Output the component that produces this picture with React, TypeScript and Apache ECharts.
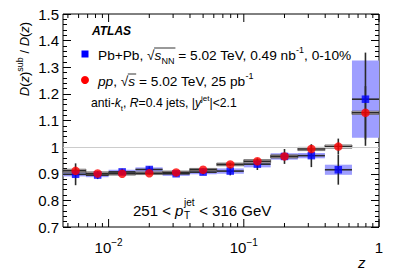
import React, { useEffect, useRef } from 'react';
import * as echarts from 'echarts';

// ---- data ----
const binEdges = [0.0046, 0.0068, 0.01, 0.0158, 0.0251, 0.0398, 0.0631, 0.1, 0.158, 0.251, 0.398, 0.631, 1.0];
const zCenters = [0.0057, 0.0083, 0.0126, 0.02, 0.0316, 0.05, 0.0794, 0.126, 0.2, 0.316, 0.5, 0.794];
const pbpbValues = [0.898, 0.895, 0.907, 0.916, 0.9, 0.906, 0.91, 0.936, 0.965, 0.968, 0.915, 1.18];
const pbpbStat = [0.041, 0.015, 0.012, 0.012, 0.01, 0.01, 0.016, 0.022, 0.028, 0.043, 0.056, 0.175];
const pbpbSyst = [0.008, 0.008, 0.008, 0.008, 0.008, 0.008, 0.01, 0.012, 0.012, 0.01, 0.019, 0.145];
const ppValues = [0.911, 0.901, 0.9, 0.902, 0.905, 0.915, 0.935, 0.947, 0.965, 0.993, 1.002, 1.129];
const ppStat = [0.01, 0.006, 0.005, 0.005, 0.005, 0.005, 0.006, 0.008, 0.01, 0.015, 0.03, 0.1];
const ppSyst = [0.006, 0.006, 0.005, 0.005, 0.005, 0.005, 0.005, 0.006, 0.006, 0.006, 0.006, 0.006];
const xMajorTicks = [0.01, 0.1, 1];
const xMinorTicks = [0.005, 0.006, 0.007, 0.008, 0.009, 0.02, 0.03, 0.04, 0.05, 0.06, 0.07, 0.08, 0.09,
  0.2, 0.3, 0.4, 0.5, 0.6, 0.7, 0.8, 0.9];
const yMin = 0.7;
const yMax = 1.5;
const yStep = 0.1;

const FONT = '"Liberation Sans", Arial, Helvetica, sans-serif';

function measure(text: string, font: string): number {
  const c = document.createElement('canvas').getContext('2d');
  if (!c) return text.length * 7;
  c.font = font;
  return c.measureText(text).width;
}

export default function App() {
  const ref = useRef<HTMLDivElement>(null);
  useEffect(() => {
    if (!ref.current) return;
    const chart = echarts.init(ref.current, null, { renderer: 'svg' });

    const boxData = (vals: number[], syst: number[]) =>
      zCenters.map((_, i) => [binEdges[i], binEdges[i + 1], vals[i], syst[i]]);
    const errData = (vals: number[], stat: number[]) =>
      zCenters.map((z, i) => [z, vals[i], stat[i]]);

    const boxRender = (fill: string, stroke: string | null) => (params: any, api: any) => {
      const cs = params.coordSys;
      const p1 = api.coord([api.value(0), api.value(2) + api.value(3)]);
      const p2 = api.coord([api.value(1), api.value(2) - api.value(3)]);
      const x1 = Math.max(p1[0], cs.x);
      const x2 = Math.min(p2[0], cs.x + cs.width);
      return {
        type: 'rect',
        shape: { x: x1, y: p1[1], width: x2 - x1, height: p2[1] - p1[1] },
        style: { fill, stroke: stroke || 'none', lineWidth: stroke ? 0.8 : 0 },
      };
    };
    const hbarRender = (params: any, api: any) => {
      const cs = params.coordSys;
      const p1 = api.coord([api.value(0), api.value(2)]);
      const p2 = api.coord([api.value(1), api.value(2)]);
      return {
        type: 'line',
        shape: { x1: Math.max(p1[0], cs.x), y1: p1[1], x2: Math.min(p2[0], cs.x + cs.width), y2: p2[1] },
        style: { stroke: '#2a2a2a', lineWidth: 1.6 },
      };
    };
    const vbarRender = (params: any, api: any) => {
      const p1 = api.coord([api.value(0), api.value(1) - api.value(2)]);
      const p2 = api.coord([api.value(0), api.value(1) + api.value(2)]);
      return {
        type: 'line',
        shape: { x1: p1[0], y1: p1[1], x2: p2[0], y2: p2[1] },
        style: { stroke: '#2a2a2a', lineWidth: 1.6 },
      };
    };
    const tickRender = (len: number) => (params: any, api: any) => {
      const cs = params.coordSys;
      const x = api.coord([api.value(0), 1])[0];
      const b = cs.y + cs.height;
      return {
        type: 'group',
        children: [
          { type: 'line', shape: { x1: x, y1: b, x2: x, y2: b - len }, style: { stroke: '#000', lineWidth: 1 } },
          { type: 'line', shape: { x1: x, y1: cs.y, x2: x, y2: cs.y + len }, style: { stroke: '#000', lineWidth: 1 } },
        ],
      };
    };

    // --- texts ---
    const legFont = 13.7;
    const subSize = 9;
    const rich1: any = {
      n: { fontFamily: FONT, fontSize: legFont, lineHeight: 20, color: '#000' },
      i: { fontFamily: FONT, fontSize: legFont, fontStyle: 'italic', lineHeight: 20, color: '#000' },
      sup: { fontFamily: FONT, fontSize: subSize, lineHeight: 10, verticalAlign: 'top', color: '#000' },
      sub: { fontFamily: FONT, fontSize: subSize, lineHeight: 10, verticalAlign: 'bottom', color: '#000' },
    };
    const l3Size = 12.2;
    const rich3: any = {
      n: { fontFamily: FONT, fontSize: l3Size, lineHeight: 18, color: '#000' },
      i: { fontFamily: FONT, fontSize: l3Size, fontStyle: 'italic', lineHeight: 18, color: '#000' },
      sup: { fontFamily: FONT, fontSize: 8, lineHeight: 9, verticalAlign: 'top', color: '#000' },
      sub: { fontFamily: FONT, fontSize: 8, lineHeight: 9, verticalAlign: 'bottom', color: '#000' },
    };
    const nF = `${legFont}px ${FONT}`;
    const iF = `italic ${legFont}px ${FONT}`;
    const sF = `${subSize}px ${FONT}`;
    const l1X = 98;
    const l1Y = 55;
    const l2X = 98;
    const l2Y = 81;
    const ol1x = l1X + measure('Pb+Pb, √', nF);
    const ol1w = measure('s', iF) + measure('NN', sF) + 1;
    const ol2x = l2X + measure('pp', iF) + measure(', √', nF);
    const ol2w = measure('s', iF) + 1;

    // pT line composed with stacked sub/superscripts
    const ptFontSize = 15;
    const ptFont = `${ptFontSize}px ${FONT}`;
    const ptFontI = `italic ${ptFontSize}px ${FONT}`;
    const ptX0 = 133;
    const ptY = 210;
    const w1 = measure('251 < ', ptFont);
    const w2 = measure('p', ptFontI);
    const wSub = measure('T', `10px ${FONT}`);
    const wSup = measure('jet', `10px ${FONT}`);
    const xAfter = ptX0 + w1 + w2 + Math.max(wSub, wSup) + 1;
    const t = (text: string, x: number, y: number, size: number, extra: any = {}) => ({
      type: 'text',
      x,
      y,
      style: { text, fontFamily: FONT, fontSize: size, fill: '#000', verticalAlign: 'middle', align: 'left', ...extra },
      silent: true,
    });
    const oline = (x: number, y: number, w: number) => ({
      type: 'line',
      shape: { x1: x - 0.5, y1: y, x2: x + w, y2: y },
      style: { stroke: '#000', lineWidth: 0.8 },
      silent: true,
    });

    const option: any = {
      animation: false,
      grid: { left: 63, right: 20, top: 14, bottom: 44, show: true, borderColor: '#000', borderWidth: 1, backgroundColor: 'transparent' },
      xAxis: {
        type: 'log',
        min: binEdges[0],
        max: 1,
        logBase: 10,
        axisLine: { show: false },
        axisTick: { show: false },
        splitLine: { show: false },
        minorTick: { show: false },
        axisLabel: {
          margin: 10,
          color: '#000',
          fontFamily: FONT,
          fontSize: 15,
          showMinLabel: true,
          showMaxLabel: true,
          formatter: (v: number) => {
            const l = Math.log10(v);
            if (Math.abs(l) < 1e-6) return '{b|1}';
            if (Math.abs(l - Math.round(l)) < 1e-6) return '{b|10}{e|−' + Math.abs(Math.round(l)) + '}';
            return '';
          },
          rich: {
            b: { fontFamily: FONT, fontSize: 15, lineHeight: 20, color: '#000' },
            e: { fontFamily: FONT, fontSize: 10, lineHeight: 12, verticalAlign: 'top', color: '#000' },
          },
        },
      },
      yAxis: [
        {
          type: 'value',
          min: yMin,
          max: yMax,
          interval: yStep,
          axisLine: { show: false },
          splitLine: { show: false },
          axisTick: { show: true, inside: true, length: 8, lineStyle: { color: '#000', width: 1 } },
          minorTick: { show: true, splitNumber: 5, length: 4, lineStyle: { color: '#000', width: 1 } },
          axisLabel: {
            margin: 4,
            color: '#000',
            fontFamily: FONT,
            fontSize: 15,
            formatter: (v: number) => (Math.abs(v - 1) < 1e-9 ? '1' : v.toFixed(1)),
          },
        },
        {
          type: 'value',
          position: 'right',
          min: yMin,
          max: yMax,
          interval: yStep,
          axisLine: { show: false },
          splitLine: { show: false },
          axisTick: { show: true, inside: true, length: 8, lineStyle: { color: '#000', width: 1 } },
          minorTick: { show: true, splitNumber: 5, length: 4, lineStyle: { color: '#000', width: 1 } },
          axisLabel: { show: false },
        },
      ],
      series: [
        {
          type: 'custom',
          name: 'ticksMajor',
          data: xMajorTicks.map((v) => [v]),
          encode: { x: 0 },
          renderItem: tickRender(8),
          silent: true,
          clip: false,
          z: 1,
        },
        {
          type: 'custom',
          name: 'ticksMinor',
          data: xMinorTicks.map((v) => [v]),
          encode: { x: 0 },
          renderItem: tickRender(4),
          silent: true,
          clip: false,
          z: 1,
        },
        {
          type: 'custom',
          name: 'pbpbSyst',
          data: boxData(pbpbValues, pbpbSyst),
          encode: { x: [0, 1], y: [2] },
          renderItem: boxRender('#9e9eff', null),
          silent: true,
          z: 2,
          markLine: {
            silent: true,
            symbol: 'none',
            label: { show: false },
            lineStyle: { color: '#cccccc', width: 1, type: 'solid' },
            data: [{ yAxis: 1 }],
          },
        },
        {
          type: 'custom',
          name: 'ppSyst',
          data: boxData(ppValues, ppSyst),
          encode: { x: [0, 1], y: [2] },
          renderItem: boxRender('#f6e0e0', '#555555'),
          silent: true,
          z: 3,
        },
        {
          type: 'custom',
          name: 'pbpbX',
          data: boxData(pbpbValues, pbpbSyst),
          encode: { x: [0, 1], y: [2] },
          renderItem: hbarRender,
          silent: true,
          z: 4,
        },
        {
          type: 'custom',
          name: 'ppX',
          data: boxData(ppValues, ppSyst),
          encode: { x: [0, 1], y: [2] },
          renderItem: hbarRender,
          silent: true,
          z: 4,
        },
        {
          type: 'custom',
          name: 'pbpbErr',
          data: errData(pbpbValues, pbpbStat),
          encode: { x: 0, y: 1 },
          renderItem: vbarRender,
          silent: true,
          z: 5,
        },
        {
          type: 'custom',
          name: 'ppErr',
          data: errData(ppValues, ppStat),
          encode: { x: 0, y: 1 },
          renderItem: vbarRender,
          silent: true,
          z: 5,
        },
        {
          type: 'scatter',
          name: 'Pb+Pb',
          data: zCenters.map((z, i) => [z, pbpbValues[i]]),
          symbol: 'rect',
          symbolSize: 7.5,
          itemStyle: { color: '#0000ff' },
          silent: true,
          z: 6,
        },
        {
          type: 'scatter',
          name: 'pp',
          data: zCenters.map((z, i) => [z, ppValues[i]]),
          symbol: 'circle',
          symbolSize: 8.5,
          itemStyle: { color: '#ff0000' },
          silent: true,
          z: 7,
        },
      ],
      graphic: [
        t('ATLAS', 92, 31, 12, { fontWeight: 'bold', fontStyle: 'italic' }),
        { type: 'rect', shape: { x: 81.5, y: 50.5, width: 7, height: 7 }, style: { fill: '#0000ff' }, silent: true },
        {
          type: 'text',
          x: l1X,
          y: l1Y,
          silent: true,
          style: {
            text: '{n|Pb+Pb, √}{i|s}{sub|NN}{n| = 5.02 TeV, 0.49 nb}{sup|-1}{n|, 0-10%}',
            rich: rich1,
            verticalAlign: 'middle',
            align: 'left',
          },
        },
        oline(ol1x, l1Y - 7, ol1w),
        { type: 'circle', shape: { cx: 85, cy: 80, r: 4 }, style: { fill: '#ff0000' }, silent: true },
        {
          type: 'text',
          x: l2X,
          y: l2Y,
          silent: true,
          style: {
            text: '{i|pp}{n|, √}{i|s}{n| = 5.02 TeV, 25 pb}{sup|-1}',
            rich: rich1,
            verticalAlign: 'middle',
            align: 'left',
          },
        },
        oline(ol2x, l2Y - 7, ol2w),
        {
          type: 'text',
          x: 91,
          y: 103,
          silent: true,
          style: {
            text: '{n|anti-}{i|k}{sub|t}{n|, }{i|R}{n|=0.4 jets, |}{i|y}{sup|jet}{n||<2.1}',
            rich: rich3,
            verticalAlign: 'middle',
            align: 'left',
          },
        },
        t('251 < ', ptX0, ptY, ptFontSize),
        t('p', ptX0 + w1, ptY, ptFontSize, { fontStyle: 'italic' }),
        t('T', ptX0 + w1 + w2 + 0.5, ptY + 5, 10),
        t('jet', ptX0 + w1 + w2 + 0.5, ptY - 8, 10),
        t(' < 316 GeV', xAfter, ptY, ptFontSize),
        {
          type: 'text',
          x: 24,
          y: 59,
          rotation: Math.PI / 2,
          silent: true,
          style: {
            text: '{i|D}{n|(}{i|z}{n|)}{s|sub}{n| / }{i|D}{n|(}{i|z}{n|)}',
            align: 'center',
            verticalAlign: 'middle',
            rich: {
              n: { fontFamily: FONT, fontSize: 13, lineHeight: 17, color: '#000' },
              i: { fontFamily: FONT, fontSize: 13, fontStyle: 'italic', lineHeight: 17, color: '#000' },
              s: { fontFamily: FONT, fontSize: 9, lineHeight: 10, verticalAlign: 'top', color: '#000' },
            },
          },
        },
        t('z', 358, 262, 15, { fontStyle: 'italic' }),
      ],
    };
    chart.setOption(option);
    return () => chart.dispose();
  }, []);
  return <div ref={ref} style={{ position: 'absolute', left: 0, top: 0, width: 399, height: 271 }} />;
}
